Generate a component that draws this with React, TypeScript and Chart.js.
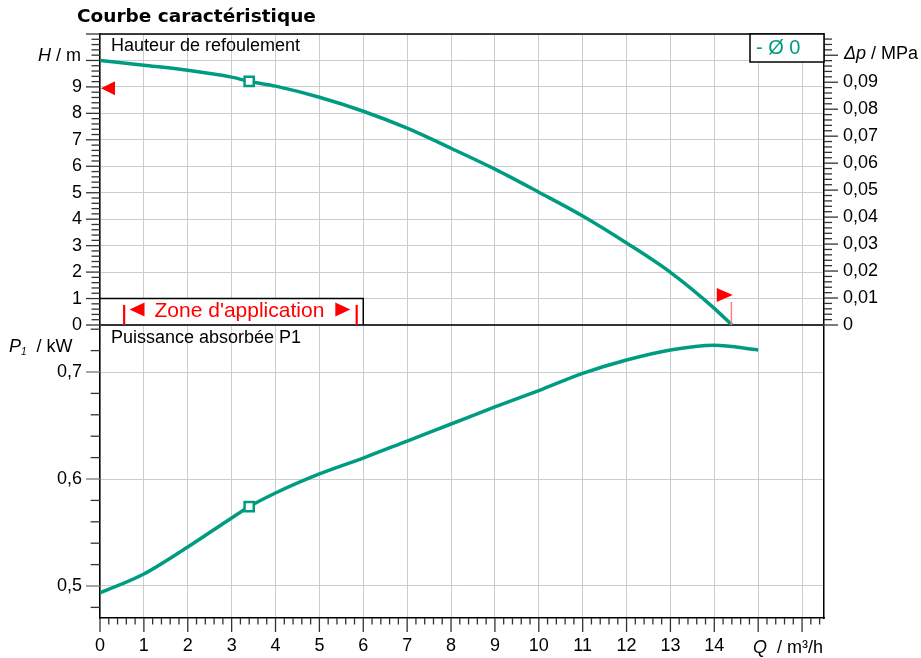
import React, { useEffect, useRef } from 'react';
import { Chart, registerables } from 'chart.js';

Chart.register(...registerables);

// ---------------- data ----------------
const flowH = [0, 1, 2, 3, 3.4, 4, 5, 6, 7, 8, 9, 10, 11, 12, 13, 14, 14.4];
const headH = [10.0, 9.82, 9.63, 9.37, 9.21, 9.03, 8.61, 8.08, 7.44, 6.68, 5.89, 5.02, 4.12, 3.1, 1.99, 0.63, 0];
const flowP = [0, 1, 2, 3, 3.4, 4, 5, 6, 7, 8, 9, 10, 11, 12, 13, 14, 15];
const powerP = [0.4935, 0.5112, 0.5364, 0.5636, 0.5741, 0.5869, 0.6047, 0.6196, 0.6355, 0.6514, 0.6673, 0.6826, 0.6987, 0.7112, 0.7206, 0.725, 0.7206];
const opFlow = 3.4;
const opHead = 9.21;
const opPower = 0.5741;

const flowTicks = [0, 1, 2, 3, 4, 5, 6, 7, 8, 9, 10, 11, 12, 13, 14, 15, 16];
const flowTickLabels = ['0', '1', '2', '3', '4', '5', '6', '7', '8', '9', '10', '11', '12', '13', '14', '', ''];
const headTicks = [0, 1, 2, 3, 4, 5, 6, 7, 8, 9, 10, 11];
const headTickLabels = ['0', '1', '2', '3', '4', '5', '6', '7', '8', '9', '', ''];
const powerTicks = [0.5, 0.6, 0.7];
const powerTickLabels = ['0,5', '0,6', '0,7'];
const mpaTicks = [0, 0.01, 0.02, 0.03, 0.04, 0.05, 0.06, 0.07, 0.08, 0.09];
const mpaTickLabels = ['0', '0,01', '0,02', '0,03', '0,04', '0,05', '0,06', '0,07', '0,08', '0,09'];

const flowMin = 0;
const flowMax = 16.5;
const headMin = 0;
const headMax = 11;
const powerMin = 0.47009;
const powerMax = 0.74393;
const MPA_PER_M = 0.00980665;

const zoneFlowStart = 0.55;
const zoneFlowEnd = 5.85;
const zoneBoxFlow = 6;
const zoneBoxHead = 1;
const zoneMaxHead = 8.95;
const zoneMaxFlow = 14.42;
const zoneMarkHead = 1.13;

const TEAL = '#009c82';
const RED = '#ff0000';
const FONT = '"Liberation Sans", Arial, sans-serif';

// panel weights (pixel heights of upper / lower panel)
const W_TOP = 291;
const W_BOT = 293;

function drawParts(ctx: CanvasRenderingContext2D, parts: [string, string, number][], x: number, y: number, align: 'left' | 'right') {
  let total = 0;
  for (const [t, f] of parts) {
    ctx.font = f;
    total += ctx.measureText(t).width;
  }
  let cx = align === 'left' ? x : x - total;
  ctx.textAlign = 'left';
  ctx.textBaseline = 'alphabetic';
  for (const [t, f, dy] of parts) {
    ctx.font = f;
    ctx.fillText(t, cx, y + dy);
    cx += ctx.measureText(t).width;
  }
}

export default function App() {
  const ref = useRef<HTMLCanvasElement>(null);

  useEffect(() => {
    const canvas = ref.current!;
    const mpaMax = headMax * MPA_PER_M;
    const mpaMin = -mpaMax * W_BOT / W_TOP;

    const setTicks = (vals: number[]) => (scale: any) => {
      scale.ticks = vals.map((v) => ({ value: v }));
    };

    const overlay = {
      id: 'overlay',
      beforeDatasetsDraw(chart: any) {
        const { ctx, chartArea: a, scales } = chart;
        const yH = scales.yH;
        ctx.save();
        ctx.strokeStyle = '#333';
        ctx.lineWidth = 2;
        ctx.beginPath();
        const ys = Math.round(yH.getPixelForValue(0));
        ctx.moveTo(a.left, ys);
        ctx.lineTo(a.right, ys);
        ctx.stroke();
        ctx.strokeStyle = '#000';
        ctx.lineWidth = 1.5;
        ctx.beginPath();
        ctx.moveTo(a.left, a.top);
        ctx.lineTo(a.right, a.top);
        ctx.stroke();
        ctx.restore();
      },
      afterDraw(chart: any) {
        const { ctx, chartArea: a, scales } = chart;
        const x = scales.x, yH = scales.yH, yP = scales.yP, yM = scales.yM;
        ctx.save();

        ctx.strokeStyle = '#333';
        ctx.lineWidth = 1.3;
        const hline = (x1: number, x2: number, y: number) => {
          ctx.beginPath(); ctx.moveTo(x1, y); ctx.lineTo(x2, y); ctx.stroke();
        };
        const vline = (xx: number, y1: number, y2: number) => {
          ctx.beginPath(); ctx.moveTo(xx, y1); ctx.lineTo(xx, y2); ctx.stroke();
        };
        for (let i = 0; i <= 82; i++) {
          const px = x.getPixelForValue(i * 0.2);
          vline(px, a.bottom, a.bottom + (i % 5 === 0 ? 14 : 6.5));
        }
        for (let i = 0; i <= 55; i++) {
          const py = yH.getPixelForValue(i * 0.2);
          hline(a.left - (i % 5 === 0 ? 14 : 8.5), a.left, py);
        }
        for (let i = 24; i <= 37; i++) {
          const py = yP.getPixelForValue(i * 0.02);
          const major = i % 5 === 0;
          ctx.strokeStyle = major ? '#777' : '#333';
          hline(a.left - (major ? 14 : 9.3), a.left, py);
        }
        ctx.strokeStyle = '#333';
        for (let i = 0; i <= 53; i++) {
          const py = yM.getPixelForValue(i * 0.002);
          hline(a.right, a.right + (i % 5 === 0 ? 14 : 8), py);
        }

        // application zone box
        const bx0 = x.getPixelForValue(0);
        const bx1 = x.getPixelForValue(zoneBoxFlow);
        const by0 = yH.getPixelForValue(zoneBoxHead);
        const by1 = yH.getPixelForValue(0);
        ctx.fillStyle = '#fff';
        ctx.fillRect(bx0 + 1, by0, bx1 - bx0 - 1, by1 - by0 - 1);
        ctx.strokeStyle = '#000';
        ctx.lineWidth = 1.5;
        ctx.beginPath();
        ctx.moveTo(bx0, by0); ctx.lineTo(bx1, by0); ctx.lineTo(bx1, by1);
        ctx.stroke();

        const zl = x.getPixelForValue(zoneFlowStart);
        const zr = x.getPixelForValue(zoneFlowEnd);
        ctx.strokeStyle = RED;
        ctx.lineWidth = 2.2;
        vline(zl, yH.getPixelForValue(0.76), by1);
        vline(zr, yH.getPixelForValue(0.76), by1);
        ctx.fillStyle = RED;
        ctx.font = '21px ' + FONT;
        const zt = "Zone d'application";
        const zw = ctx.measureText(zt).width;
        const zc = (zl + zr) / 2;
        ctx.textAlign = 'left';
        ctx.textBaseline = 'alphabetic';
        ctx.fillText(zt, zc - zw / 2 - 1, by1 - 8.5);
        const ty = by1 - 15.5;
        const tl = zc - zw / 2 - 11;
        ctx.beginPath(); ctx.moveTo(tl, ty - 7); ctx.lineTo(tl, ty + 7); ctx.lineTo(tl - 15, ty); ctx.closePath(); ctx.fill();
        const tr = zc + zw / 2 + 10;
        ctx.beginPath(); ctx.moveTo(tr, ty - 7); ctx.lineTo(tr, ty + 7); ctx.lineTo(tr + 15, ty); ctx.closePath(); ctx.fill();

        // max head marker (left) and max flow marker (right)
        const lh = yH.getPixelForValue(zoneMaxHead);
        ctx.beginPath(); ctx.moveTo(a.left + 1, lh); ctx.lineTo(a.left + 15, lh - 7); ctx.lineTo(a.left + 15, lh + 7); ctx.closePath(); ctx.fill();
        const rx = x.getPixelForValue(zoneMaxFlow);
        const ry = yH.getPixelForValue(zoneMarkHead);
        ctx.beginPath(); ctx.moveTo(rx, ry); ctx.lineTo(rx - 16, ry - 7); ctx.lineTo(rx - 16, ry + 7); ctx.closePath(); ctx.fill();
        ctx.strokeStyle = '#ff7f7f';
        ctx.lineWidth = 1.5;
        vline(x.getPixelForValue(zoneMaxFlow - 0.03), yH.getPixelForValue(0.87), yH.getPixelForValue(0));

        // legend box
        ctx.fillStyle = '#fff';
        ctx.fillRect(a.right - 74, a.top, 74, 28);
        ctx.strokeStyle = '#000';
        ctx.lineWidth = 1.5;
        ctx.strokeRect(a.right - 74, a.top, 74, 28);
        ctx.fillStyle = TEAL;
        ctx.font = '20px ' + FONT;
        ctx.textAlign = 'left';
        ctx.textBaseline = 'alphabetic';
        ctx.fillText('- Ø 0', a.right - 68, a.top + 20);

        // texts
        ctx.fillStyle = '#000';
        ctx.font = 'bold 18.5px "DejaVu Sans", sans-serif';
        ctx.fillText('Courbe caractéristique', 77, 22);
        ctx.font = '18px ' + FONT;
        ctx.fillText('Hauteur de refoulement', a.left + 11, a.top + 17);
        ctx.fillText('Puissance absorbée P1', a.left + 11, yH.getPixelForValue(0) + 18);

        const it = 'italic 18px ' + FONT;
        const nm = '18px ' + FONT;
        drawParts(ctx, [['H', it, 0], [' / m', nm, 0]], a.left - 19, yH.getPixelForValue(10) + 1, 'right');
        drawParts(ctx, [['Δp', it, 0], [' / MPa', nm, 0]], a.right + 20, yM.getPixelForValue(0.1) + 4, 'left');
        drawParts(ctx, [['P', it, 0], ['1', 'italic 10px ' + FONT, 3], ['  / kW', nm, 0]], 9, yP.getPixelForValue(0.72) + 1, 'left');
        drawParts(ctx, [['Q', it, 0], ['  / m³/h', nm, 0]], 753, a.bottom + 35, 'left');

        ctx.restore();
      },
    };

    const tickFont = { family: FONT, size: 18 };

    const chart = new Chart(canvas, {
      type: 'line',
      data: {
        datasets: [
          {
            label: 'opH',
            data: [{ x: opFlow, y: opHead }],
            xAxisID: 'x',
            yAxisID: 'yH',
            showLine: false,
            pointStyle: 'rect',
            pointRadius: 6.5,
            borderWidth: 2.5,
            borderColor: TEAL,
            backgroundColor: '#fff',
          },
          {
            label: 'opP',
            data: [{ x: opFlow, y: opPower }],
            xAxisID: 'x',
            yAxisID: 'yP',
            showLine: false,
            pointStyle: 'rect',
            pointRadius: 6.5,
            borderWidth: 2.5,
            borderColor: TEAL,
            backgroundColor: '#fff',
          },
          {
            label: 'H',
            data: flowH.map((q, i) => ({ x: q, y: headH[i] })),
            xAxisID: 'x',
            yAxisID: 'yH',
            borderColor: TEAL,
            borderWidth: 3.5,
            pointRadius: 0,
            cubicInterpolationMode: 'monotone',
            fill: false,
          },
          {
            label: 'P1',
            data: flowP.map((q, i) => ({ x: q, y: powerP[i] })),
            xAxisID: 'x',
            yAxisID: 'yP',
            borderColor: TEAL,
            borderWidth: 3.5,
            pointRadius: 0,
            cubicInterpolationMode: 'monotone',
            fill: false,
          },
        ],
      },
      options: {
        responsive: false,
        animation: false,
        events: [],
        layout: { padding: { top: 34, left: 0, right: 0, bottom: 0 } },
        plugins: { legend: { display: false }, tooltip: { enabled: false }, title: { display: false } },
        scales: {
          x: {
            type: 'linear',
            position: 'bottom',
            min: flowMin,
            max: flowMax,
            afterBuildTicks: setTicks(flowTicks),
            afterFit: (s: any) => { s.height = 40; },
            ticks: {
              autoSkip: false,
              maxRotation: 0,
              padding: 17,
              color: '#000',
              font: tickFont,
              callback: (_v: any, i: number) => flowTickLabels[i],
            },
            grid: { color: '#cccccc', lineWidth: 1, drawTicks: false },
            border: { color: '#000', width: 1.5 },
          },
          yP: {
            type: 'linear',
            position: 'left',
            stack: 'left',
            stackWeight: W_BOT,
            min: powerMin,
            max: powerMax,
            afterBuildTicks: setTicks(powerTicks),
            afterFit: (s: any) => { s.width = 100; },
            ticks: {
              autoSkip: false,
              padding: 18,
              color: '#000',
              font: tickFont,
              callback: (_v: any, i: number) => powerTickLabels[i],
            },
            grid: { color: '#cccccc', lineWidth: 1, drawTicks: false },
            border: { color: '#000', width: 1.5 },
          },
          yH: {
            type: 'linear',
            position: 'left',
            stack: 'left',
            stackWeight: W_TOP,
            min: headMin,
            max: headMax,
            afterBuildTicks: setTicks(headTicks),
            afterFit: (s: any) => { s.width = 100; },
            ticks: {
              autoSkip: false,
              padding: 18,
              color: '#000',
              font: tickFont,
              callback: (_v: any, i: number) => headTickLabels[i],
            },
            grid: { color: '#cccccc', lineWidth: 1, drawTicks: false },
            border: { color: '#000', width: 1.5 },
          },
          yM: {
            type: 'linear',
            position: 'right',
            min: mpaMin,
            max: mpaMax,
            afterBuildTicks: setTicks(mpaTicks),
            afterFit: (s: any) => { s.width = 97; },
            ticks: {
              autoSkip: false,
              padding: 19,
              color: '#000',
              font: tickFont,
              callback: (_v: any, i: number) => mpaTickLabels[i],
            },
            grid: { display: false, drawTicks: false },
            border: { color: '#000', width: 1.5 },
          },
        },
      } as any,
      plugins: [overlay],
    });

    return () => chart.destroy();
  }, []);

  return (
    <div style={{ position: 'fixed', left: 0, top: 0, width: 921, height: 658, background: '#fff' }}>
      <canvas ref={ref} width={921} height={658} style={{ display: 'block', width: 921, height: 658 }} />
    </div>
  );
}
